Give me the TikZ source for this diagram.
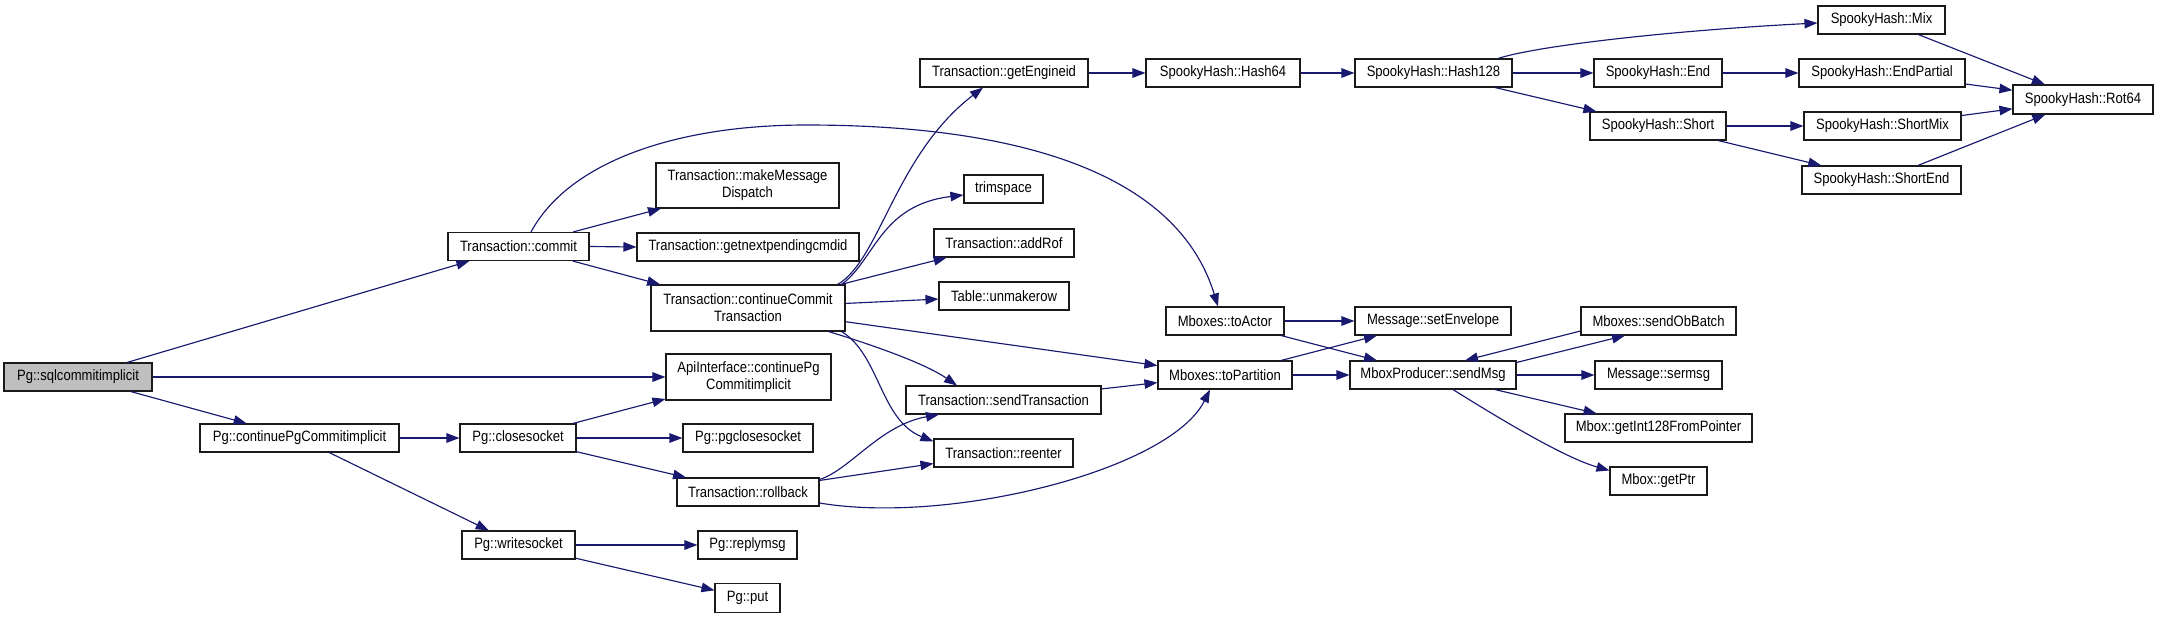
\documentclass[tikz,border=0pt]{standalone}
\usepackage{fontspec}
\setmainfont{Liberation Sans}[FakeStretch=0.87]
\usetikzlibrary{arrows.meta}
\definecolor{edgecol}{HTML}{191970}
\definecolor{rootfill}{HTML}{BFBFBF}
\definecolor{boxline}{HTML}{1A1A1A}
\begin{document}
\begin{tikzpicture}[x=1pt,y=-1pt,
  box/.style={draw=boxline,line width=1.1pt,inner sep=0pt,align=center,
    minimum height=28pt,font=\fontsize{15}{17}\selectfont},
  e/.style={draw=edgecol,line width=1.15pt,-{Triangle[length=13pt,width=9.5pt]}}]
\useasboundingbox (0,0) rectangle (2160,619);
% nodes
\node[box,minimum width=148pt,fill=rootfill] (sql) at (78,377) {Pg::sqlcommitimplicit};
\node[box,minimum width=141pt] (commit) at (518.5,246.5) {Transaction::commit};
\node[box,minimum width=183pt,minimum height=45pt] (mmd) at (747.5,185.5) {Transaction::makeMessage\\Dispatch};
\node[box,minimum width=222pt] (gnp) at (748,247) {Transaction::getnextpendingcmdid};
\node[box,minimum width=194pt,minimum height=46pt] (cct) at (748,308) {Transaction::continueCommit\\Transaction};
\node[box,minimum width=168pt] (gei) at (1004,73) {Transaction::getEngineid};
\node[box,minimum width=79pt] (trim) at (1003.5,189) {trimspace};
\node[box,minimum width=140pt] (addrof) at (1004,243) {Transaction::addRof};
\node[box,minimum width=130pt] (unmk) at (1004,296) {Table::unmakerow};
\node[box,minimum width=118pt] (toActor) at (1225,321) {Mboxes::toActor};
\node[box,minimum width=156pt] (setEnv) at (1433,321) {Message::setEnvelope};
\node[box,minimum width=134pt] (toPart) at (1225,375) {Mboxes::toPartition};
\node[box,minimum width=166pt] (sendMsg) at (1433,375) {MboxProducer::sendMsg};
\node[box,minimum width=155pt] (sendOb) at (1658.5,321) {Mboxes::sendObBatch};
\node[box,minimum width=127pt] (sermsg) at (1658.5,375) {Message::sermsg};
\node[box,minimum width=187pt] (getInt) at (1658.5,428) {Mbox::getInt128FromPointer};
\node[box,minimum width=97pt] (getPtr) at (1658.5,481) {Mbox::getPtr};
\node[box,minimum width=154pt] (h64) at (1223,73) {SpookyHash::Hash64};
\node[box,minimum width=157pt] (h128) at (1433.5,73) {SpookyHash::Hash128};
\node[box,minimum width=127pt] (mix) at (1881.5,20) {SpookyHash::Mix};
\node[box,minimum width=128pt] (end) at (1658,73) {SpookyHash::End};
\node[box,minimum width=166pt] (endp) at (1882,73) {SpookyHash::EndPartial};
\node[box,minimum width=136pt] (short) at (1658,126) {SpookyHash::Short};
\node[box,minimum width=157pt] (shortmix) at (1882.5,126) {SpookyHash::ShortMix};
\node[box,minimum width=159pt] (shortend) at (1881.5,180) {SpookyHash::ShortEnd};
\node[box,minimum width=140pt,minimum height=29pt] (rot) at (2083,99.5) {SpookyHash::Rot64};
\node[box,minimum width=165pt,minimum height=46pt] (api) at (748.5,377) {ApiInterface::continuePg\\Commitimplicit};
\node[box,minimum width=195pt] (sendTr) at (1003.5,400) {Transaction::sendTransaction};
\node[box,minimum width=139pt] (reenter) at (1003.5,453) {Transaction::reenter};
\node[box,minimum width=130pt] (pgclose) at (748,438) {Pg::pgclosesocket};
\node[box,minimum width=142pt] (rollback) at (748,492) {Transaction::rollback};
\node[box,minimum width=199pt] (cpg) at (299.5,438) {Pg::continuePgCommitimplicit};
\node[box,minimum width=116pt] (close) at (518,438) {Pg::closesocket};
\node[box,minimum width=113pt] (write) at (518.5,545) {Pg::writesocket};
\node[box,minimum width=99pt] (reply) at (747.5,545) {Pg::replymsg};
\node[box,minimum width=65pt,minimum height=29pt] (put) at (747.5,598) {Pg::put};
% edges
\draw[e] (sql) -- (commit);
\draw[e] (sql.east) -- (api.west);
\draw[e] (sql) -- (cpg);
\draw[e] (commit) -- (mmd);
\draw[e] (commit.east) -- (gnp.west);
\draw[e] (commit) -- (cct);
\draw[e] ([xshift=12.5pt]commit.north) .. controls (570,160) and (680,125) .. (806,125)
   .. controls (960,125) and (1170,150) .. ([xshift=-7pt]toActor.north);
\draw[e] ([xshift=-8pt]cct.north east) .. controls (880,260) and (895,155) .. ([xshift=-21pt]gei.south);
\draw[e] ([xshift=-4pt]cct.north east) .. controls (875,260) and (880,205) .. ([yshift=-6pt]trim.west);
\draw[e] (cct) -- (addrof);
\draw[e] (cct) -- (unmk);
\draw[e] (cct) -- (toPart);
\draw[e] ([xshift=-17pt]cct.south east) .. controls (850,338) and (920,360) .. ([xshift=-46.5pt]sendTr.north);
\draw[e] ([xshift=-4pt]cct.south east) .. controls (880,355) and (880,420) .. ([yshift=-3pt]reenter.north west);
\draw[e] (gei.east) -- (h64.west);
\draw[e] (h64.east) -- (h128.west);
\draw[e] ([xshift=64.5pt]h128.north) .. controls (1540,45) and (1680,30) .. ([yshift=-3pt]mix.west);
\draw[e] (h128.east) -- (end.west);
\draw[e] (h128) -- (short);
\draw[e] (end.east) -- (endp.west);
\draw[e] (mix) -- (rot);
\draw[e] (endp) -- (rot);
\draw[e] (short.east) -- (shortmix.west);
\draw[e] (short) -- (shortend);
\draw[e] (shortmix) -- (rot);
\draw[e] (shortend) -- (rot);
\draw[e] (toActor.east) -- (setEnv.west);
\draw[e] (toActor) -- (sendMsg);
\draw[e] (toPart) -- (setEnv);
\draw[e] (toPart.east) -- (sendMsg.west);
\draw[e] ([yshift=-2pt]sendMsg.north east) -- ([xshift=-33.5pt]sendOb.south);
\draw[e] ([yshift=-10pt]sendOb.west) -- ([xshift=32pt]sendMsg.north);
\draw[e] (sendMsg.east) -- (sermsg.west);
\draw[e] (sendMsg) -- (getInt);
\draw[e] ([xshift=20pt]sendMsg.south) .. controls (1500,419) and (1565,458) .. ([yshift=-4pt]getPtr.north west);
\draw[e] (sendTr) -- (toPart);
\draw[e] (cpg.east) -- (close.west);
\draw[e] (cpg) -- (write);
\draw[e] (close) -- (api);
\draw[e] (close.east) -- (pgclose.west);
\draw[e] (close) -- (rollback);
\draw[e] ([yshift=-2pt]rollback.north east) .. controls (850,470) and (880,425) .. ([xshift=-64.5pt]sendTr.south);
\draw[e] ([yshift=-3pt]rollback.north east) -- ([yshift=4pt]reenter.south west);
\draw[e] ([yshift=-11pt]rollback.east) .. controls (950,525) and (1170,470) .. ([xshift=-15pt]toPart.south);
\draw[e] (write.east) -- (reply.west);
\draw[e] (write) -- (put);
\end{tikzpicture}
\end{document}
